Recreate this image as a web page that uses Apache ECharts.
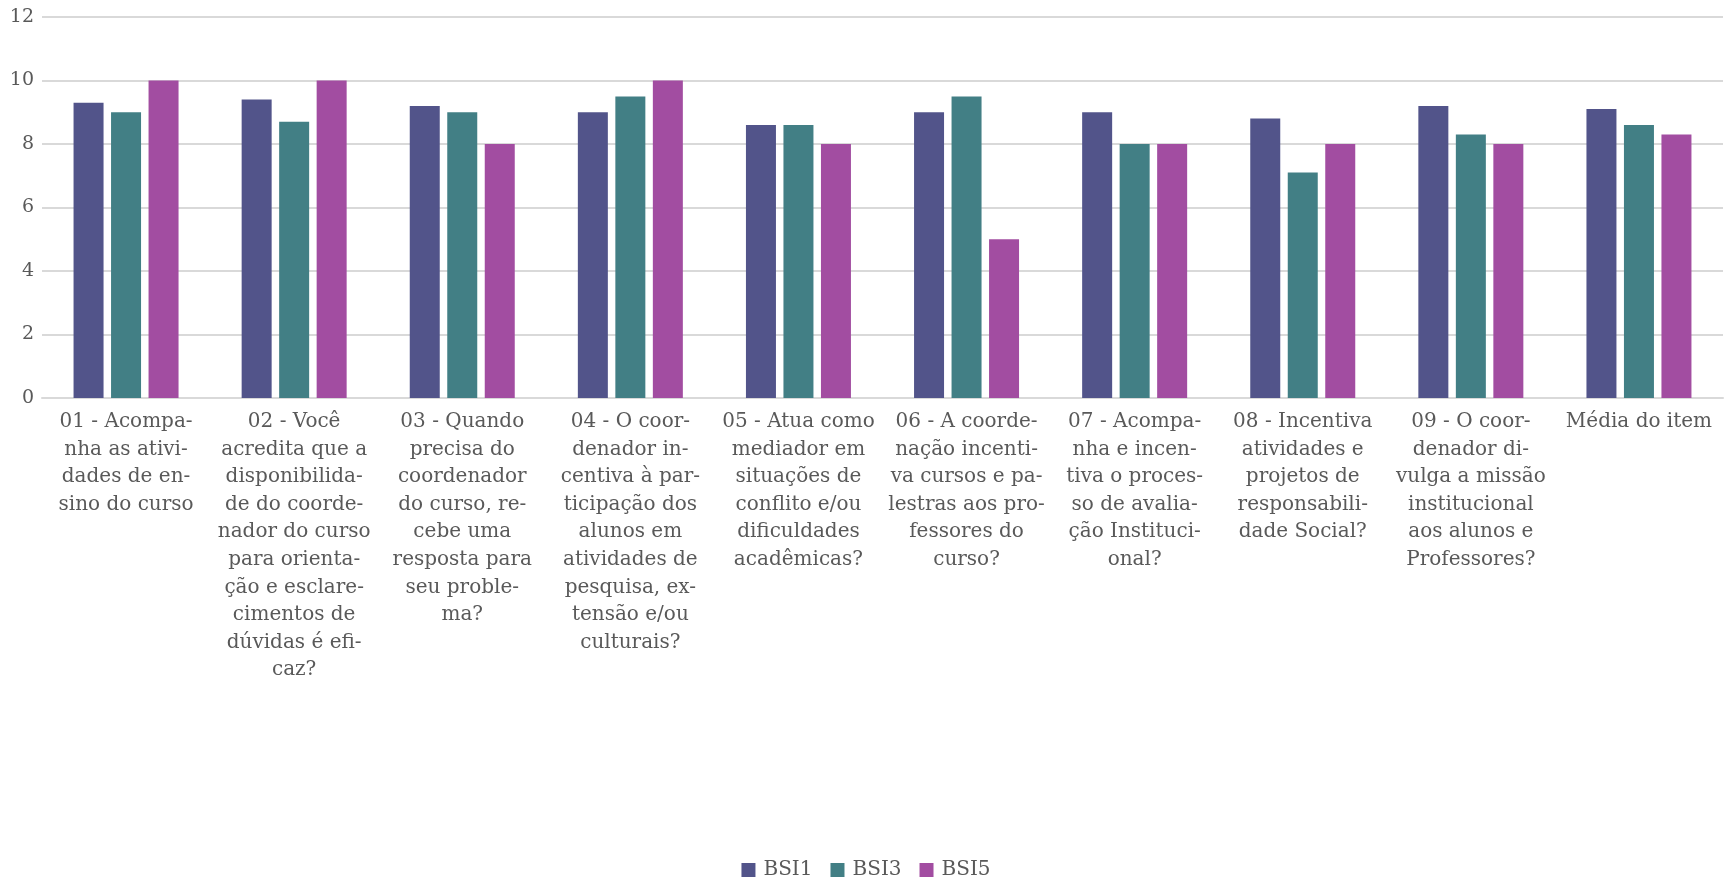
<!DOCTYPE html>
<html>
<head>
<meta charset="utf-8">
<script src="https://cdn.jsdelivr.net/npm/echarts@6/dist/echarts.min.js"></script>
<style>
html,body{margin:0;padding:0;background:#fff;}
#chart{width:1732px;height:879px;}
</style>
</head>
<body>
<div id="chart"></div>
<script>
const categories = [
  "01 - Acompa-\nnha as ativi-\ndades de en-\nsino do curso",
  "02 - Você\nacredita que a\ndisponibilida-\nde do coorde-\nnador do curso\npara orienta-\nção e esclare-\ncimentos de\ndúvidas é efi-\ncaz?",
  "03 - Quando\nprecisa do\ncoordenador\ndo curso, re-\ncebe uma\nresposta para\nseu proble-\nma?",
  "04 - O coor-\ndenador in-\ncentiva à par-\nticipação dos\nalunos em\natividades de\npesquisa, ex-\ntensão e/ou\nculturais?",
  "05 - Atua como\nmediador em\nsituações de\nconflito e/ou\ndificuldades\nacadêmicas?",
  "06 - A coorde-\nnação incenti-\nva cursos e pa-\nlestras aos pro-\nfessores do\ncurso?",
  "07 - Acompa-\nnha e incen-\ntiva o proces-\nso de avalia-\nção Instituci-\nonal?",
  "08 - Incentiva\natividades e\nprojetos de\nresponsabili-\ndade Social?",
  "09 - O coor-\ndenador di-\nvulga a missão\ninstitucional\naos alunos e\nProfessores?",
  "Média do item"
];
const seriesNames = ["BSI1", "BSI3", "BSI5"];
const bsi1 = [9.3, 9.4, 9.2, 9.0, 8.6, 9.0, 9.0, 8.8, 9.2, 9.1];
const bsi3 = [9.0, 8.7, 9.0, 9.5, 8.6, 9.5, 8.0, 7.1, 8.3, 8.6];
const bsi5 = [10, 10, 8, 10, 8, 5, 8, 8, 8, 8.3];
const yTicks = { min: 0, max: 12, interval: 2 };

const colors = ["#52548A", "#427F85", "#A24DA1"];
const font = "DejaVu Serif";
const textColor = "#595959";

const chart = echarts.init(document.getElementById('chart'), null, {renderer: 'canvas'});
const values = [bsi1, bsi3, bsi5];
chart.setOption({
  animation: false,
  backgroundColor: '#ffffff',
  color: colors,
  grid: { left: 42, right: 9, top: 17, bottom: 481, containLabel: false },
  legend: {
    data: seriesNames,
    left: 'center',
    top: 855,
    itemWidth: 14,
    itemHeight: 14,
    itemGap: 18,
    icon: 'rect',
    textStyle: { fontFamily: font, fontSize: 20, color: textColor, padding: [0, 0, 0, 3] }
  },
  xAxis: {
    type: 'category',
    data: categories,
    axisLine: { lineStyle: { color: '#D9D9D9', width: 2 } },
    axisTick: { show: false },
    axisLabel: {
      interval: 0,
      margin: 10,
      fontFamily: font,
      fontSize: 20,
      lineHeight: 27.6,
      color: textColor,
      align: 'center',
      verticalAlign: 'top'
    }
  },
  yAxis: {
    type: 'value',
    min: yTicks.min,
    max: yTicks.max,
    interval: yTicks.interval,
    axisLine: { show: false },
    axisTick: { show: false },
    splitLine: { lineStyle: { color: '#D9D9D9', width: 2 } },
    axisLabel: { fontFamily: font, fontSize: 19, color: textColor, margin: 8 }
  },
  series: seriesNames.map((n, i) => ({
    name: n,
    type: 'bar',
    data: values[i],
    barWidth: 30,
    barGap: '25%',
    itemStyle: { color: colors[i] }
  }))
});
</script>
</body>
</html>
